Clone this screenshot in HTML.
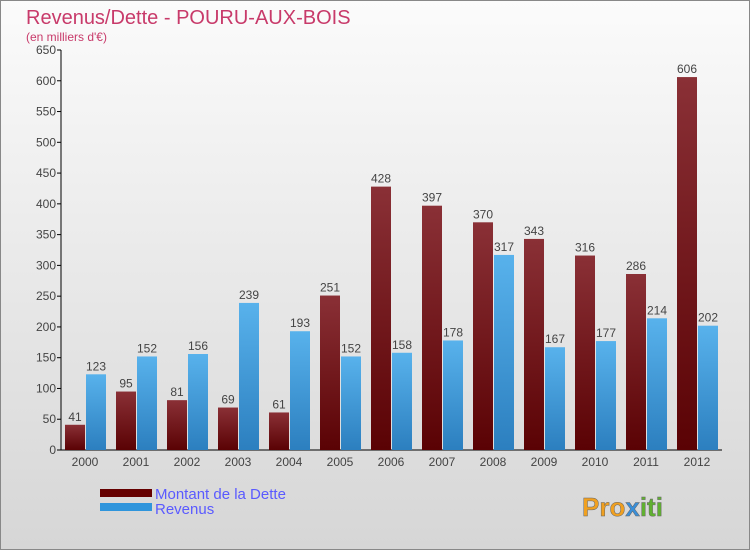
<!DOCTYPE html>
<html><head><meta charset="utf-8"><style>
body{margin:0;width:750px;height:550px;overflow:hidden;font-family:"Liberation Sans","DejaVu Sans",sans-serif;}
</style></head><body>
<svg id="chart" width="750" height="550" xmlns="http://www.w3.org/2000/svg">
<defs>
<linearGradient id="bg" x1="0" y1="0" x2="0" y2="1"><stop offset="0" stop-color="#fbfbfb"/><stop offset="1" stop-color="#d6d6d6"/></linearGradient>
<linearGradient id="gd" x1="0" y1="0" x2="0" y2="1"><stop offset="0" stop-color="#8a3036"/><stop offset="1" stop-color="#5a0204"/></linearGradient>
<linearGradient id="gr" x1="0" y1="0" x2="0" y2="1"><stop offset="0" stop-color="#58b2ec"/><stop offset="1" stop-color="#2c7fbf"/></linearGradient>
</defs>
<rect x="0.5" y="0.5" width="749" height="549" fill="url(#bg)" stroke="#888"/>
<text x="26" y="24" font-size="20" fill="#c83a6a">Revenus/Dette - POURU-AUX-BOIS</text>
<text x="26" y="41" font-size="12" fill="#c83a6a">(en milliers d'€)</text>
<g id="axes"></g><g id="bars"></g>
<rect x="100" y="489" width="52" height="8" fill="#650000"/>
<rect x="100" y="503" width="52" height="8" fill="#2f95dc"/>
<text x="155" y="499" font-size="15" fill="#5a5aff">Montant de la Dette</text>
<text x="155" y="514" font-size="15" fill="#5a5aff">Revenus</text>
<text x="582" y="516" font-size="26" font-weight="bold" fill="#f0a020" stroke="#666" stroke-width="0.5">Pro<tspan fill="#3a8fd8">x</tspan><tspan fill="#60b030">iti</tspan></text>
</svg>
<script>
const years=["2000","2001","2002","2003","2004","2005","2006","2007","2008","2009","2010","2011","2012"];
const dette=[41,95,81,69,61,251,428,397,370,343,316,286,606];
const revenus=[123,152,156,239,193,152,158,178,317,167,177,214,202];
const yTicks=[0,50,100,150,200,250,300,350,400,450,500,550,600,650];
const NS="http://www.w3.org/2000/svg";
const y0=450,ppu=400/650,x0=85,step=51;
const yS=v=>y0-v*ppu, xS=i=>x0+i*step;
function mk(tag,attrs,parent,txt){const e=document.createElementNS(NS,tag);for(const k in attrs)e.setAttribute(k,attrs[k]);if(txt!==undefined)e.textContent=txt;parent.appendChild(e);return e;}
const ax=document.getElementById('axes'),bg=document.getElementById('bars');
let l=mk('line',{x1:61,y1:50,x2:61,y2:450,stroke:'#000'},ax);


l=mk('line',{x1:61,y1:450,x2:722,y2:450,stroke:'#000'},ax);


yTicks.forEach(t=>{const y=yS(t);
 const tk=mk('line',{x1:57,y1:y,x2:61,y2:y,stroke:'#000'},ax);
 
 
 const tx=mk('text',{x:56,y:y+4,'font-size':12,fill:'#444','text-anchor':'end'},ax,t);
 
 
});
years.forEach((yr,i)=>{const c=xS(i);
 const tx=mk('text',{x:c,y:466,'font-size':12,fill:'#444','text-anchor':'middle'},ax,yr);
 
 
 const b1=mk('rect',{x:c-20,y:yS(dette[i]),width:20,height:dette[i]*ppu,fill:'url(#gd)'},bg);
 
 
 const b2=mk('rect',{x:c+1,y:yS(revenus[i]),width:20,height:revenus[i]*ppu,fill:'url(#gr)'},bg);
 
 
 const v1=mk('text',{x:c-10,y:yS(dette[i])-4,'font-size':12,fill:'#444','text-anchor':'middle'},bg,dette[i]);
 
 
 const v2=mk('text',{x:c+11,y:yS(revenus[i])-4,'font-size':12,fill:'#444','text-anchor':'middle'},bg,revenus[i]);
 
 
});
</script>
</body></html>
